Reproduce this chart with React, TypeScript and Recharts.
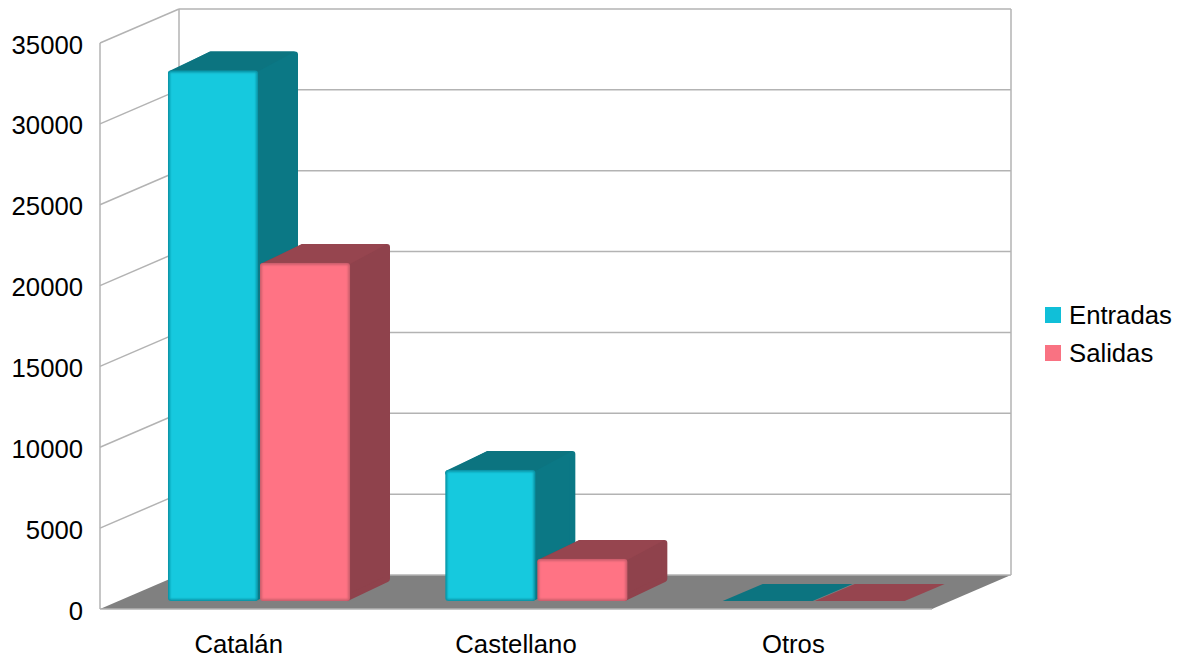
import React from "react";
import { BarChart, Bar, XAxis, YAxis, CartesianGrid, Legend } from "recharts";

const categories = ["Catalán", "Castellano", "Otros"];
const entradas = [32800, 8100, 0];
const salidas = [20900, 2600, 0];
const yTicks = [0, 5000, 10000, 15000, 20000, 25000, 30000, 35000];
const data = categories.map((name, i) => ({ name, Entradas: entradas[i], Salidas: salidas[i] }));

const FONT = "'Liberation Sans', Arial, sans-serif";
const FONT_SIZE = 25.7;
const GRID = "#b3b3b3";
const WALL_DX = 79;
const WALL_DY = -34;
const BAR_SHIFT_X = 20;
const BAR_SHIFT_Y = -8;
const DEPTH_X = 40;
const DEPTH_Y = -19;
const FLAT_DEPTH_Y = -17;
const PLOT_HEIGHT = 566;

function gridLine(props: any) {
  const { x1, x2, y1, index, key } = props;
  const isBase = y1 > 600;
  const isTop = y1 < 50;
  const bx1 = x1 + WALL_DX;
  const bx2 = x2 + WALL_DX;
  const by = y1 + WALL_DY;
  const sw = 1.5;
  return (
    <g key={key ?? index}>
      {isBase && (
        <polygon points={`${x1},${y1} ${bx1},${by} ${bx2},${by} ${x2},${y1}`} fill="#808080" />
      )}
      {!isBase && <line x1={bx1} y1={by} x2={bx2} y2={by} stroke={GRID} strokeWidth={sw} />}
      {!isBase && <line x1={x1} y1={y1} x2={bx1} y2={by} stroke={GRID} strokeWidth={sw} />}
      {isBase && <line x1={x1} y1={y1} x2={x2} y2={y1} stroke={GRID} strokeWidth={sw} />}
      {isBase && <line x1={bx1} y1={by} x2={bx2} y2={by} stroke={GRID} strokeWidth={sw} />}
      {isTop && <line x1={bx1} y1={by} x2={bx1} y2={by + PLOT_HEIGHT} stroke={GRID} strokeWidth={sw} />}
      {isTop && <line x1={bx2} y1={by} x2={bx2} y2={by + PLOT_HEIGHT} stroke={GRID} strokeWidth={sw} />}
      {isTop && <line x1={x1} y1={y1} x2={x1} y2={y1 + PLOT_HEIGHT} stroke={GRID} strokeWidth={sw} />}
    </g>
  );
}

function makeBar(front: string, edge: string, side: string, top: string) {
  return function Bar3D(props: any) {
    const { x, y, width, height } = props;
    const tx = x + BAR_SHIFT_X;
    const ty = y + BAR_SHIFT_Y;
    const w = width;
    const h = height;
    if (!(h > 1)) {
      return (
        <polygon
          points={`${tx},${ty + h} ${tx + DEPTH_X},${ty + h + FLAT_DEPTH_Y} ${tx + w + DEPTH_X},${ty + h + FLAT_DEPTH_Y} ${tx + w},${ty + h}`}
          fill={top}
        />
      );
    }
    const r = 3;
    const sil = `${tx + r},${ty + r} ${tx + DEPTH_X + r},${ty + DEPTH_Y + r} ${tx + w + DEPTH_X - r},${ty + DEPTH_Y + r} ${tx + w + DEPTH_X - r},${ty + h + DEPTH_Y - r} ${tx + w - r},${ty + h - r}`;
    return (
      <g>
        <polygon points={sil} fill={side} stroke={side} strokeWidth={r * 2} strokeLinejoin="round" />
        <polygon
          points={`${tx + 2},${ty + 1} ${tx + DEPTH_X + 2},${ty + DEPTH_Y} ${tx + w + DEPTH_X - 3},${ty + DEPTH_Y} ${tx + w},${ty + 1}`}
          fill={top}
        />
        <rect x={tx} y={ty} width={w} height={h} rx={3} fill={edge} />
        <rect x={tx + 1.8} y={ty + 1.8} width={w - 3.6} height={h - 3.6} fill={front} filter="url(#soft)" />
      </g>
    );
  };
}

const EntradaBar = makeBar("#12c9de", "#0c90a2", "#0b7885", "#0c7480");
const SalidaBar = makeBar("#ff7384", "#c85c6a", "#8f424c", "#96454f");

function LegendBox(props: any) {
  const items = props.payload ?? [];
  return (
    <div style={{ fontFamily: FONT, fontSize: FONT_SIZE, color: "#000", lineHeight: "38px" }}>
      {items.map((it: any) => (
        <div key={it.value} style={{ display: "flex", alignItems: "center", height: 38, whiteSpace: "nowrap" }}>
          <span style={{ display: "inline-block", width: 16, height: 16, background: it.color, marginRight: 8 }} />
          <span>{it.value}</span>
        </div>
      ))}
    </div>
  );
}

export default function App() {
  return (
    <div style={{ position: "absolute", left: 0, top: 0, width: 1189, height: 659, background: "#fff" }}>
      <BarChart
        width={1189}
        height={659}
        data={data}
        margin={{ top: 43, right: 257, bottom: 0, left: 0 }}
        barSize={90}
        barGap={2}
      >
        <defs>
          <filter id="soft" x="-5%" y="-5%" width="110%" height="110%">
            <feGaussianBlur stdDeviation="0.8" />
          </filter>
        </defs>
        <CartesianGrid horizontal={gridLine} vertical={false} />
        <XAxis
          dataKey="name"
          axisLine={false}
          tickLine={false}
          interval={0}
          height={50}
          tickMargin={20}
          tick={{ fontFamily: FONT, fontSize: FONT_SIZE, fill: "#000" }}
        />
        <YAxis
          width={100}
          domain={[0, 35000]}
          ticks={yTicks}
          axisLine={false}
          tickLine={false}
          tickMargin={11}
          tick={{ fontFamily: FONT, fontSize: FONT_SIZE, fill: "#000", dy: 1.5 }}
        />
        <Bar dataKey="Entradas" fill="#10bfd8" isAnimationActive={false} shape={EntradaBar} />
        <Bar dataKey="Salidas" fill="#f97282" isAnimationActive={false} shape={SalidaBar} />
        <Legend
          layout="vertical"
          align="center"
          verticalAlign="middle"
          content={LegendBox}
          wrapperStyle={{ position: "absolute", left: 1045, top: 296, width: 140 }}
        />
      </BarChart>
    </div>
  );
}
